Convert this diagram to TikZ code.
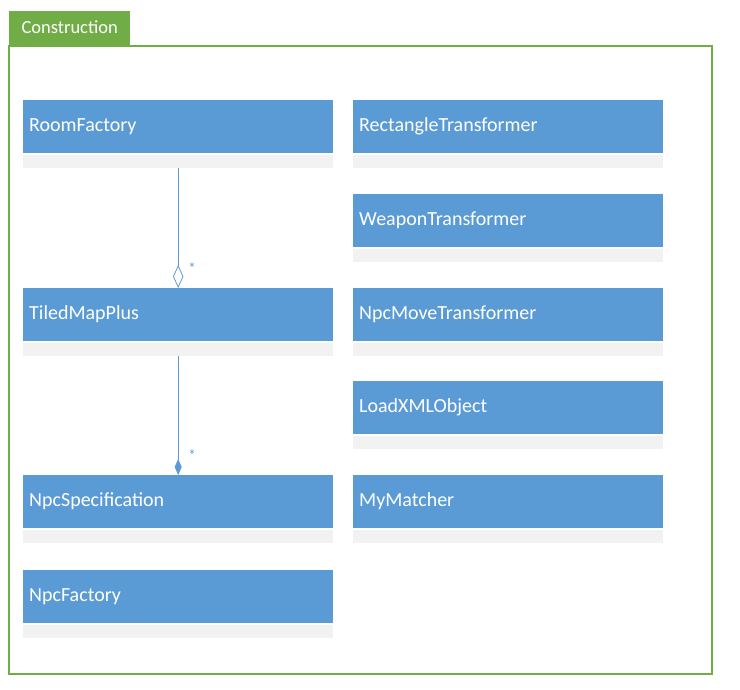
\documentclass[tikz,border=0pt]{standalone}
\usepackage{fontspec}
\setmainfont{Carlito}
\usetikzlibrary{arrows.meta}
\definecolor{umlblue}{HTML}{5B9BD5}
\definecolor{umlgray}{HTML}{F2F2F2}
\definecolor{pkggreen}{HTML}{70AD47}
\tikzset{
	classhead/.style={fill=umlblue, text=white, anchor=north west, inner sep=0pt, inner xsep=6pt,
		text width=298pt, minimum height=53pt, text height=14pt, text depth=4pt, align=left,
		font=\fontsize{20}{24}\selectfont},
	classbody/.style={fill=umlgray, anchor=north west, inner sep=0pt, minimum width=310pt, minimum height=13pt},
	umlline/.style={draw=umlblue, line width=0.8pt},
	mult/.style={text=umlblue, inner sep=0pt, font=\fontsize{15}{18}\selectfont}
}
\def\classbox#1(#2)#3{\node[classhead] (#1) at (#2) {#3};
	\node[classbody] (#1-body) at ([yshift=-1pt]#1.south west) {};}

\begin{document}
\begin{tikzpicture}[x=1pt, y=-1pt]
			%%%%% START %%%%%
			\useasboundingbox (0, 0) rectangle (740, 690);
			
			\draw[draw=pkggreen, line width=1.1pt] (9, 46) rectangle (712, 674);
			\node[fill=pkggreen, text=white, anchor=north west, minimum width=121pt, minimum height=35pt,
				inner sep=0pt, inner xsep=10pt, text height=13pt, text depth=3pt,
				font=\fontsize{18.5}{22}\selectfont] (pkgtab) at (9, 11) {Construction};
			
			\classbox{roomfactory}(23, 100){RoomFactory}
			\classbox{tiledmapplus}(23, 288){TiledMapPlus}
			\classbox{npcspec}(23, 475){NpcSpecification}
			\classbox{npcfactory}(23, 570){NpcFactory}
			
			\classbox{recttrans}(353, 100){RectangleTransformer}
			\classbox{weapontrans}(353, 194){WeaponTransformer}
			\classbox{npcmovetrans}(353, 288){NpcMoveTransformer}
			\classbox{loadxml}(353, 381){LoadXMLObject}
			\classbox{mymatcher}(353, 475){MyMatcher}
			
			\draw[umlline, -{Diamond[open, length=23pt, width=10.5pt]}] (roomfactory-body.south) -- (tiledmapplus.north);
			\node[mult] (aggmult) at (192, 268) {*};
			
			\draw[umlline, -{Diamond[length=16pt, width=7pt]}] (tiledmapplus-body.south) -- (npcspec.north);
			\node[mult] (compmult) at (192, 455) {*};
			
			%%%%% END %%%%%
		\end{tikzpicture}
\end{document}
